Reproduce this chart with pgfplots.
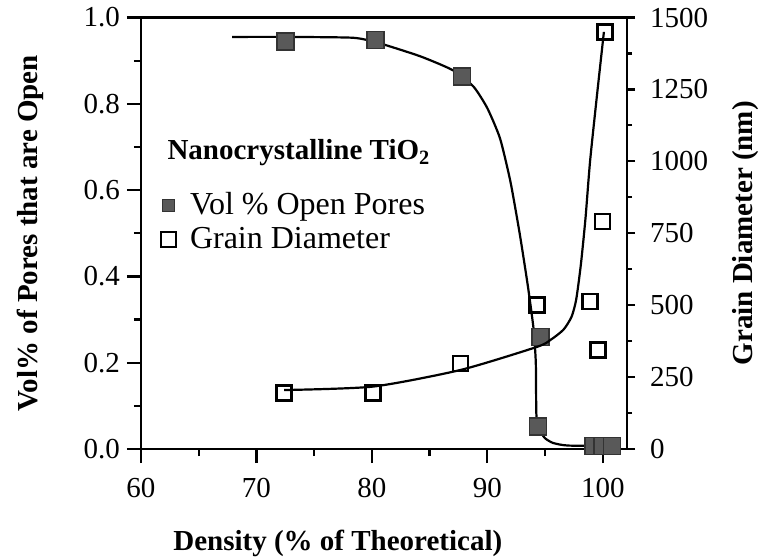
\documentclass[border=0pt]{standalone}
\usepackage{fontspec}
\setmainfont{Liberation Serif}
\usepackage{pgfplots}
\pgfplotsset{compat=1.18}
\begin{document}
\begin{tikzpicture}
\pgfplotsset{
  common/.style={
    scale only axis, width=243pt, height=215.75pt,
    at={(0,0)}, anchor=south west,
    xmin=60, xmax=102.1, ymin=0, ymax=1,
    tick align=outside,
    major tick length=7pt, minor tick length=3.5pt,
    axis line style={line width=1.2pt},
    every tick/.style={black, line width=1.1pt},
    tick label style={font=\fontsize{14.5}{17}\selectfont},
    /pgf/number format/assume math mode=true,
    label style={font=\fontsize{14.5}{17}\selectfont\bfseries},
  }
}
\begin{axis}[common,
  xtick={60,70,80,90,100}, minor x tick num=1,
  ytick={0,0.2,0.4,0.6,0.8,1}, minor y tick num=1,
  xtick pos=bottom, ytick pos=left,
  yticklabel style={/pgf/number format/.cd, fixed, fixed zerofill, precision=1},
  xticklabel style={yshift=-4pt},
  xlabel={Density (\% of Theoretical)},
  ylabel={Vol\% of Pores that are Open},
  xlabel style={at={(axis description cs:0.405,-0.218)}, anchor=center},
  ylabel style={at={(axis description cs:-0.228,0.5)}, anchor=center},
]
\addplot[black, line width=1.1pt, smooth, tension=0.35] coordinates {
 (67.9,0.955)(72.5,0.955)(78.4,0.953)(80.7,0.94)(84.2,0.91)(87.0,0.878)
 (88.8,0.84)(90.0,0.79)(91.1,0.72)(92.0,0.62)(92.8,0.50)(93.5,0.38)
 (94.0,0.28)(94.2,0.2)(94.25,0.08)(94.5,0.045)(95.0,0.025)(95.7,0.014)
 (97,0.008)(101.2,0.007)
};
\addplot[only marks, mark=square*, mark size=4.25pt,
  mark options={fill=black!65, draw=black!80, line width=0.8pt}] coordinates {
 (72.5,0.944)(80.3,0.948)(87.8,0.863)(94.6,0.260)(94.4,0.052)
 (99.2,0.007)(100.0,0.007)(100.8,0.007)
};
\end{axis}
\begin{axis}[common, ymin=0, ymax=1500,
  axis x line=none, axis y line*=right,
  ytick={0,250,500,750,1000,1250,1500}, minor y tick num=1,
  major tick length=4pt, minor tick length=2.5pt,
  scaled y ticks=false,
  yticklabel style={/pgf/number format/1000 sep={}, xshift=4pt},
  ylabel={Grain Diameter (nm)},
  ylabel style={at={(axis description cs:1.243,0.5)}, anchor=center},
  legend style={draw=none, fill=none, at={(0.028,0.614)}, anchor=north west,
    font=\fontsize{16}{19}\selectfont, row sep=1pt},
  legend cell align=left,
]
\addlegendimage{only marks, mark=square*, mark size=3pt,
  mark options={fill=black!65, draw=black!80}}
\addlegendentry{\hspace{5pt}Vol \% Open Pores}
\addplot[black, line width=1.1pt, smooth, tension=0.4, forget plot] coordinates {
 (72.4,205)(80.1,217)(87.7,275)(94.3,355)(95.5,380)(96.6,415)(97.3,460)
 (97.7,520)(98.1,640)(98.5,800)(98.9,1000)(99.5,1230)(100.1,1450)
};
\addplot[only marks, mark=square, mark size=3.75pt,
  mark options={fill=white, draw=black, line width=1.2pt}] coordinates {
 (72.4,195)(80.1,195)(87.7,298)(94.3,500)(98.9,512)(99.6,344)(100.0,790)(100.2,1450)
};
\addlegendentry{\hspace{5pt}Grain Diameter}
\node[anchor=west, font=\fontsize{14.5}{17}\selectfont\bfseries]
  at (axis description cs:0.04,0.686) {Nanocrystalline TiO\textsubscript{2}};
\end{axis}
\pgfresetboundingbox
\path (-70.5pt,-55pt) rectangle (309.5pt,224.5pt);
\end{tikzpicture}
\end{document}
